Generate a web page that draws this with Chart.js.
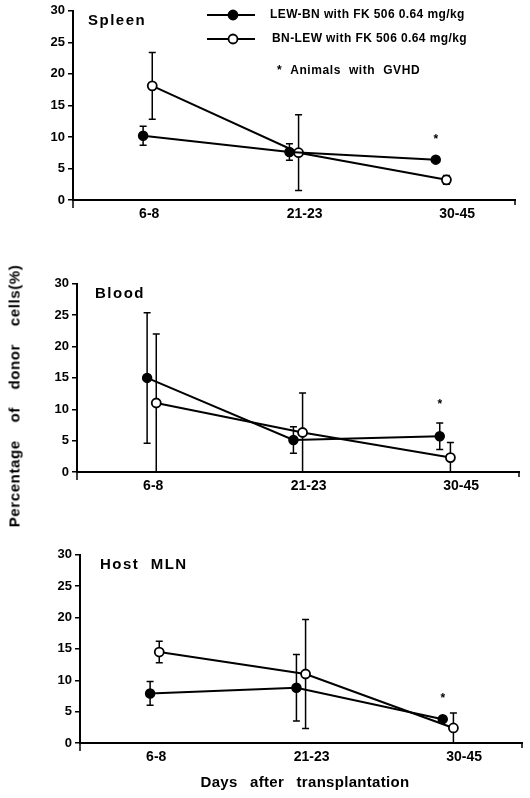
<!DOCTYPE html>
<html>
<head>
<meta charset="utf-8">
<script src="https://cdn.jsdelivr.net/npm/chart.js@4"></script>
<style>
body { margin:0; background:#fff; width:530px; height:798px; position:relative; overflow:hidden; font-family:"Liberation Sans", Arial, sans-serif; }
.panel { position:absolute; left:0; width:530px; }
#ytitle { position:absolute; left:14px; top:396px; transform:translate(-50%,-50%) rotate(-90deg); white-space:nowrap; font-weight:bold; font-size:15px; letter-spacing:0.6px; word-spacing:13px; color:#000; }
#xtitle { position:absolute; left:305px; top:781px; transform:translate(-50%,-50%); white-space:nowrap; font-weight:bold; font-size:15px; letter-spacing:0.3px; word-spacing:8px; color:#000; }
</style>
</head>
<body>
<div class="panel" style="top:0px;height:230px"><canvas id="spleen"></canvas></div>
<div class="panel" style="top:273px;height:229px"><canvas id="blood"></canvas></div>
<div class="panel" style="top:544px;height:229px"><canvas id="mln"></canvas></div>
<div id="ytitle">Percentage of donor cells(%)</div>
<div id="xtitle">Days after transplantation</div>
<script>
// categories and where their labels sit on the x axis
const categories = ["6-8", "21-23", "30-45"];
const tickPos = [1, 2.02, 3.02];
// the two groups are drawn a little apart
const lewX = [0.96, 1.92, 2.88];
const bnX = [1.02, 1.98, 2.95];

const seriesNames = ["LEW-BN with FK 506 0.64 mg/kg", "BN-LEW with FK 506 0.64 mg/kg"];

// Spleen
const spleenLew = [10.2, 7.6, 6.4];
const spleenLewErr = [1.5, 1.3, 0];
const spleenBn = [18.1, 7.5, 3.2];
const spleenBnErr = [5.3, 6.0, 0.7];

// Blood
const bloodLew = [15.0, 5.1, 5.7];
const bloodLewErr = [10.4, 2.1, 2.1];
const bloodBn = [11.0, 6.3, 2.3];
const bloodBnErr = [11.0, 6.3, 2.4];

// Host MLN
const mlnLew = [7.9, 8.8, 3.8];
const mlnLewErr = [1.9, 5.3, 0];
const mlnBn = [14.5, 11.0, 2.4];
const mlnBnErr = [1.7, 8.7, 2.4];

// asterisk (animals with GVHD) over LEW-BN at 30-45
const starY = [10.0, 11.2, 7.5];

const yTicks = [0, 5, 10, 15, 20, 25, 30];

const FONT = "'Liberation Sans', Arial, sans-serif";

const errorBars = {
    id: "errorBars",
    beforeDatasetsDraw(chart) {
        const {ctx, scales: {x, y}} = chart;
        ctx.save();
        ctx.strokeStyle = "#000";
        ctx.lineWidth = 1.5;
        chart.data.datasets.forEach(ds => {
            ds.data.forEach((p, i) => {
                const e = ds.errors[i];
                if (!e) return;
                const px = x.getPixelForValue(p.x);
                const hi = y.getPixelForValue(p.y + e);
                const lo = y.getPixelForValue(Math.max(0, p.y - e));
                ctx.beginPath();
                ctx.moveTo(px, hi); ctx.lineTo(px, lo);
                ctx.moveTo(px - 3.5, hi); ctx.lineTo(px + 3.5, hi);
                if (p.y - e > 0.1) { ctx.moveTo(px - 3.5, lo); ctx.lineTo(px + 3.5, lo); }
                ctx.stroke();
            });
        });
        ctx.restore();
    }
};

const decorations = {
    id: "decorations",
    afterDraw(chart, args, opts) {
        const {ctx, chartArea, scales: {x, y}} = chart;
        ctx.save();
        ctx.fillStyle = "#000";
        ctx.strokeStyle = "#000";
        // panel title
        ctx.font = "bold 15px " + FONT;
        ctx.letterSpacing = "1.5px";
        ctx.textBaseline = "middle";
        ctx.fillText(opts.title, chartArea.left + opts.titleDx, chartArea.top + 10);
        ctx.letterSpacing = "0px";
        // end ticks of the x axis
        ctx.lineWidth = 1.5;
        ctx.beginPath();
        ctx.moveTo(chartArea.left, chartArea.bottom); ctx.lineTo(chartArea.left, chartArea.bottom + 8);
        ctx.moveTo(chartArea.right, chartArea.bottom); ctx.lineTo(chartArea.right, chartArea.bottom + 5);
        ctx.stroke();
        // asterisk
        ctx.font = "bold 12px " + FONT;
        ctx.textAlign = "center";
        ctx.fillText("*", x.getPixelForValue(lewX[2]), y.getPixelForValue(opts.star) + 3);
        // legend (top panel only)
        if (opts.legend) {
            const rows = [15, 39];
            chart.data.datasets.forEach((ds, i) => {
                const ly = rows[i];
                ctx.lineWidth = 2;
                ctx.beginPath(); ctx.moveTo(207, ly); ctx.lineTo(255, ly); ctx.stroke();
                ctx.beginPath(); ctx.arc(233, ly, 4.5, 0, Math.PI * 2);
                ctx.fillStyle = ds.pointBackgroundColor; ctx.fill();
                ctx.lineWidth = 1.8; ctx.stroke();
                ctx.fillStyle = "#000";
                ctx.font = "bold 12px " + FONT;
                ctx.letterSpacing = "0.4px";
                ctx.textAlign = "left";
                ctx.fillText(ds.label, 270 + i * 2, ly);
            });
            ctx.letterSpacing = "0.6px";
            ctx.fillText("*  Animals  with  GVHD", 277, 71);
        }
        ctx.restore();
    }
};

function makePanel(id, title, titleDx, lew, lewErr, bn, bnErr, star, padL, padR, legend) {
    const mk = (xs, ys) => xs.map((v, i) => ({x: v, y: ys[i]}));
    return new Chart(document.getElementById(id), {
        type: "scatter",
        data: {
            datasets: [
                { label: seriesNames[0], data: mk(lewX, lew), errors: lewErr, showLine: true,
                  borderColor: "#000", borderWidth: 2, pointRadius: 4.5, pointBackgroundColor: "#000",
                  pointBorderColor: "#000", pointBorderWidth: 1.5, clip: false },
                { label: seriesNames[1], data: mk(bnX, bn), errors: bnErr, showLine: true,
                  borderColor: "#000", borderWidth: 2, pointRadius: 4.5, pointBackgroundColor: "#fff",
                  pointBorderColor: "#000", pointBorderWidth: 1.8, clip: false }
            ]
        },
        options: {
            responsive: true,
            maintainAspectRatio: false,
            animation: false,
            layout: { padding: { left: padL, right: padR, top: 10, bottom: 0 } },
            plugins: {
                legend: { display: false },
                tooltip: { enabled: false },
                decorations: { title: title, titleDx: titleDx, star: star, legend: legend }
            },
            scales: {
                x: {
                    type: "linear",
                    min: 0.5, max: 3.4,
                    afterBuildTicks: s => { s.ticks = tickPos.map(v => ({value: v})); },
                    afterFit: s => { s.height = 30; },
                    ticks: { callback: (v, i) => categories[i], color: "#000", padding: 6,
                             font: { size: 14, weight: "bold", family: FONT } },
                    grid: { display: false, drawTicks: false },
                    border: { color: "#000", width: 2 }
                },
                y: {
                    min: 0, max: 30,
                    afterBuildTicks: s => { s.ticks = yTicks.map(v => ({value: v})); },
                    afterFit: s => { s.width = 45; },
                    ticks: { color: "#000", padding: 3,
                             font: { size: 13, weight: "bold", family: FONT } },
                    grid: { drawOnChartArea: false, drawTicks: true, tickLength: 5, color: "#000", lineWidth: 1.5 },
                    border: { color: "#000", width: 2 }
                }
            }
        },
        plugins: [errorBars, decorations]
    });
}

makePanel("spleen", "Spleen", 15, spleenLew, spleenLewErr, spleenBn, spleenBnErr, starY[0], 28, 15, true);
makePanel("blood", "Blood", 18, bloodLew, bloodLewErr, bloodBn, bloodBnErr, starY[1], 32, 11, false);
makePanel("mln", "Host  MLN", 20, mlnLew, mlnLewErr, mlnBn, mlnBnErr, starY[2], 35, 8, false);
</script>
</body>
</html>
